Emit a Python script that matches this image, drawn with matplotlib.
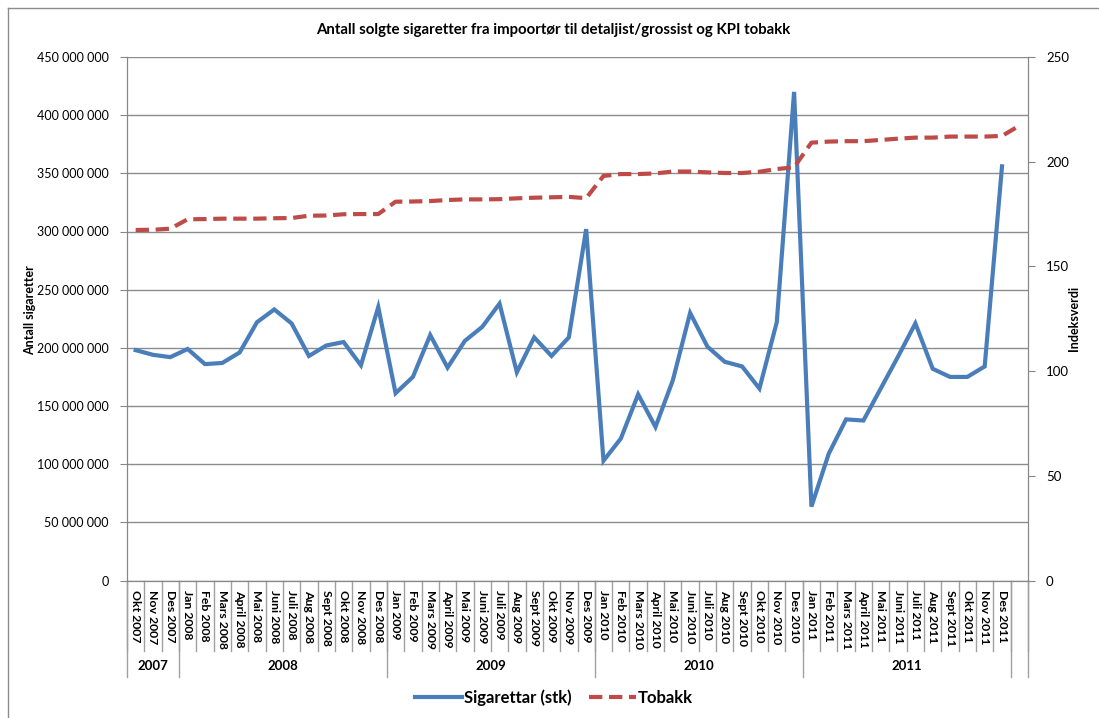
import numpy as np
import matplotlib
matplotlib.use("Agg")
import matplotlib.pyplot as plt
from matplotlib.lines import Line2D

plt.rcParams['font.family'] = ['Lato', 'DejaVu Sans']

months = ["Okt 2007", "Nov 2007", "Des 2007",
          "Jan 2008", "Feb 2008", "Mars 2008", "April 2008", "Mai 2008", "Juni 2008",
          "Juli 2008", "Aug 2008", "Sept 2008", "Okt 2008", "Nov 2008", "Des 2008",
          "Jan 2009", "Feb 2009", "Mars 2009", "April 2009", "Mai 2009", "Juni 2009",
          "Juli 2009", "Aug 2009", "Sept 2009", "Okt 2009", "Nov 2009", "Des 2009",
          "Jan 2010", "Feb 2010", "Mars 2010", "April 2010", "Mai 2010", "Juni 2010",
          "Juli 2010", "Aug 2010", "Sept 2010", "Okt 2010", "Nov 2010", "Des 2010",
          "Jan 2011", "Feb 2011", "Mars 2011", "April 2011", "Mai 2011", "Juni 2011",
          "Juli 2011", "Aug 2011", "Sept 2011", "Okt 2011", "Nov 2011", "Des 2011", ""]
years = ["2007", "2008", "2009", "2010", "2011"]
year_counts = [3, 12, 12, 12, 12]

# millioner stk
sigaretter = [198, 194, 192, 199, 186, 187, 196, 222, 233, 221, 193, 202, 205, 185, 235,
              161, 175, 211, 183, 206, 218, 238, 179, 209, 193, 209, 302,
              103, 122, 160, 132, 172, 230, 201, 188, 184, 165, 222, 420,
              63.5, 109, 138.5, 137.5, 165, 192.5, 221, 182, 175, 175, 184, 356]
tobakk = [167.4, 167.5, 168, 172.5, 172.6, 172.8, 172.8, 172.8, 173, 173.1, 174.2, 174.3,
          174.9, 175, 175, 180.9, 181, 181.2, 181.7, 182, 182, 182.1, 182.5, 182.8, 183,
          183.2, 182.6, 193.2, 194.1, 194.1, 194.4, 195.3, 195.3, 194.9, 194.6, 194.6,
          195.2, 196.5, 197.3, 209.1, 209.6, 209.8, 209.8, 210.4, 211, 211.5, 211.5, 212,
          212, 212, 212.3, 217.2]

grey = "#868686"
fig = plt.figure(figsize=(10.99, 7.18), dpi=100)
ax = fig.add_axes([127/1099, 1-580.5/718, (1028-127)/1099, 523.5/718])
ax2 = ax.twinx()

x = np.arange(len(months))
l1, = ax.plot(x[:len(sigaretter)], np.array(sigaretter)*1e6, color="#4A7EBB", lw=3, solid_joinstyle="miter", zorder=3)
l2, = ax2.plot(x, tobakk, color="#BE4B48", lw=3, dashes=(3.2, 1.6), zorder=3)

ax.set_xlim(-0.5, len(months)-0.5)
ax.set_ylim(0, 450e6)
ax.set_yticks(np.arange(0, 451e6, 50e6))
ax.set_yticklabels([f"{int(v):,}".replace(",", " ") for v in np.arange(0, 451e6, 50e6)], fontsize=9)
ax.grid(axis="y", color="#8c8c8c", lw=1)
ax.set_axisbelow(True)
ax2.set_ylim(0, 250)
ax2.set_yticks(np.arange(0, 251, 50))
ax2.tick_params(axis="y", labelsize=9.5, length=5, color=grey, pad=8)
ax.tick_params(axis="y", length=5, color=grey, pad=8)
ax.set_xticks([])
for a in (ax, ax2):
    a.spines["top"].set_visible(False)
    for s in ("left", "right", "bottom"):
        a.spines[s].set_color(grey)

# kategori-akse
trans = ax.get_xaxis_transform()
for i in range(len(months) + 1):
    ax.plot([i-0.5, i-0.5], [0, -70/523.5], transform=trans, color="#a0a0a0", lw=1, clip_on=False)
for i, m in enumerate(months):
    ax.text(i, -10/523.5, m, transform=trans, rotation=-90, ha="center", va="top",
            fontsize=8.8, fontweight="bold")
b = [0] + list(np.cumsum(year_counts)) + [len(months)]
for bb in b:
    ax.plot([bb-0.5, bb-0.5], [0, -96.5/523.5], transform=trans, color="#a0a0a0", lw=1, clip_on=False)
for yr, s, e in zip(years, b[:-2], b[1:-1]):
    ax.text((s+e-1)/2, -86/523.5, yr, transform=trans, ha="center", va="center",
            fontsize=9.5, fontweight="bold")

fig.text(553/1099, 1-30/718, "Antall solgte sigaretter fra impoortør til detaljist/grossist og KPI tobakk",
         ha="center", va="center", fontsize=10.8, fontweight="bold")
fig.text(30/1099, 1-310/718, "Antall sigaretter", rotation=90, ha="center", va="center",
         fontsize=9, fontweight="bold")
fig.text(1074/1099, 1-318/718, "Indeksverdi", rotation=90, ha="center", va="center",
         fontsize=9, fontweight="bold")

fig.legend([l1, l2], ["Sigarettar (stk)", "Tobakk"], loc="center", bbox_to_anchor=(554/1099, 1-698/718),
           ncol=2, frameon=False, prop={"weight": "bold", "size": 12}, handlelength=2.8, columnspacing=1.1,
           handletextpad=0.1)

fig.add_artist(Line2D([8/1099, 8/1099], [0, 1-8/718], color="#8c8c8c", lw=1))
fig.add_artist(Line2D([8/1099, 1], [1-8/718, 1-8/718], color="#8c8c8c", lw=1))

fig.savefig("out.png", dpi=100)
